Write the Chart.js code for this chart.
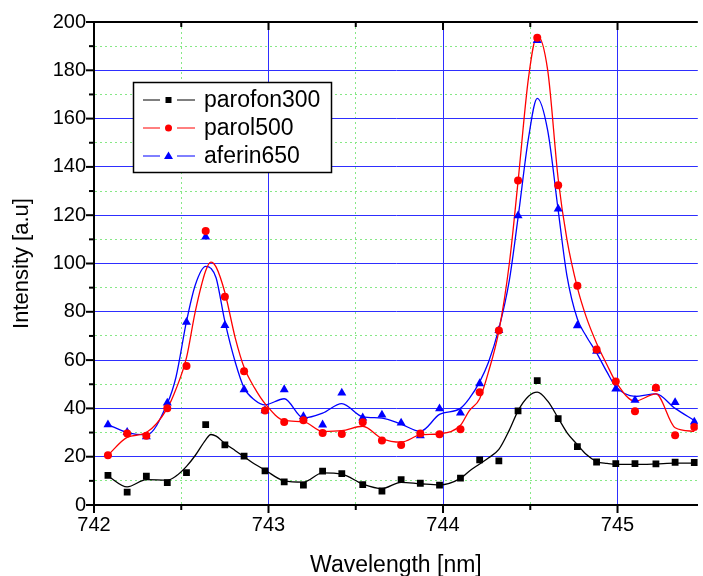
<!DOCTYPE html>
<html>
<head>
<meta charset="utf-8">
<script src="https://cdn.jsdelivr.net/npm/chart.js"></script>
<style>
  html, body { margin: 0; padding: 0; background: #fff; }
  #wrap { width: 703px; height: 576px; }
</style>
</head>
<body>
<div id="wrap"><canvas id="spectrum" width="703" height="576"></canvas></div>
<script>
// measured wavelengths (nm)
const wavelengths = [742.08, 742.19, 742.30, 742.42, 742.53, 742.64, 742.75, 742.86, 742.98, 743.09,
  743.20, 743.31, 743.42, 743.54, 743.65, 743.76, 743.87, 743.98, 744.10, 744.21,
  744.32, 744.43, 744.54, 744.66, 744.77, 744.88, 744.99, 745.10, 745.22, 745.33, 745.44];

const parofon300 = [12.3, 5.3, 11.9, 9.3, 13.4, 33.3, 24.9, 20.2, 14.1, 9.6,
  8.2, 14.0, 13.0, 8.4, 5.8, 10.5, 9.0, 8.2, 11.1, 18.7,
  18.3, 39.0, 51.5, 35.8, 24.2, 17.8, 17.1, 17.1, 17.0, 17.7, 17.6];
const parol500 = [20.6, 29.6, 28.7, 40.1, 57.6, 113.5, 86.2, 55.4, 39.1, 34.4,
  35.1, 29.8, 29.4, 34.3, 26.7, 24.8, 29.6, 29.3, 31.4, 46.7,
  72.3, 134.4, 193.5, 132.4, 90.8, 64.4, 51.1, 38.8, 48.6, 28.9, 32.3];
const aferin650 = [33.3, 30.1, 28.3, 42.3, 75.7, 111.0, 74.4, 47.8, 39.1, 47.8,
  36.7, 33.2, 46.4, 36.1, 37.3, 34.0, 28.7, 39.9, 38.1, 50.3,
  72.3, 119.8, 192.4, 122.6, 74.3, 63.7, 48.1, 43.4, 48.3, 42.5, 34.4];

// fitted curves
const fitX = [742.08, 742.19, 742.30, 742.42, 742.47, 742.53, 742.58, 742.64, 742.67, 742.70,
  742.75, 742.81, 742.86, 742.92, 742.98, 743.09, 743.20, 743.31, 743.42, 743.54,
  743.65, 743.76, 743.87, 743.98, 744.10, 744.15, 744.21, 744.26, 744.32, 744.38,
  744.43, 744.49, 744.54, 744.60, 744.66, 744.71, 744.77, 744.82, 744.88, 744.94,
  744.99, 745.10, 745.22, 745.33, 745.44];
const parofonFit = [12, 7.5, 10.5, 10.3, 12, 16, 20.5, 27, 29.2, 28.5,
  25.5, 22.5, 20, 17, 14.5, 10, 9.5, 13.3, 12.8, 8.7,
  6.8, 9.4, 8.8, 8.3, 11, 14, 17, 19.5, 23, 31,
  39, 45, 46.7, 43, 36, 30, 25, 21, 18, 17.2,
  16.8, 16.8, 17, 17.3, 17.3];
const parolFit = [20.6, 28, 30, 40, 48, 61, 80, 97, 100.6, 98.5,
  88, 69, 57, 48.5, 42, 35, 34.5, 30.5, 30.8, 32.6,
  27.5, 26, 29, 29.5, 33, 39, 44, 55, 72, 100,
  134, 177, 194.5, 180, 135, 110, 90, 78, 67, 58,
  51, 43, 46, 32, 30.5];
const aferinFit = [33.3, 30, 29, 42, 53, 76, 91, 98.8, 98, 94,
  76, 59, 48.5, 43.5, 41.5, 44, 36, 38, 42, 36.5,
  36, 33.5, 30.5, 37.5, 40, 44, 51, 59, 73, 93,
  119, 152, 168.4, 155, 122, 95, 77, 70, 63, 55,
  49, 45, 46, 40, 35];

const seriesNames = ['parofon300', 'parol500', 'aferin650'];
const seriesColors = ['#000000', '#ff0000', '#0000ff'];

const yTicks = [0, 20, 40, 60, 80, 100, 120, 140, 160, 180, 200];
const xTicks = [742, 743, 744, 745];

function pts(xs, ys) {
  return xs.map((x, i) => ({x: x, y: ys[i]}));
}

function isWhole(v, step) {
  const r = v / step;
  return Math.abs(r - Math.round(r)) < 1e-6;
}

const frameDecor = {
  id: 'frameDecor',
  afterDraw(chart) {
    const ctx = chart.ctx;
    const xs = chart.scales.x, ys = chart.scales.y, area = chart.chartArea;
    ctx.save();
    ctx.strokeStyle = '#000';
    ctx.lineWidth = 2;
    ctx.beginPath();
    ctx.moveTo(area.left - 1, area.top);
    ctx.lineTo(area.right, area.top);
    ctx.stroke();

    for (let v = 0; v <= 200; v += 10) {
      const y = ys.getPixelForValue(v);
      const len = v % 20 === 0 ? 8 : 5;
      ctx.beginPath();
      ctx.moveTo(area.left - len, y);
      ctx.lineTo(area.left, y);
      ctx.stroke();
    }
    for (let v = 742; v <= xs.max; v += 0.5) {
      const x = xs.getPixelForValue(v);
      const len = isWhole(v, 1) ? 8 : 5;
      ctx.beginPath();
      ctx.moveTo(x, area.bottom);
      ctx.lineTo(x, area.bottom + len);
      ctx.moveTo(x, area.top);
      ctx.lineTo(x, area.top + len);
      ctx.stroke();
    }

    // legend box
    const bx = 133.5, by = 82.5, bw = 198, bh = 90;
    ctx.fillStyle = '#fff';
    ctx.fillRect(bx, by, bw, bh);
    ctx.lineWidth = 1.5;
    ctx.strokeRect(bx, by, bw, bh);
    ctx.font = '23px "Liberation Sans", Arial, sans-serif';
    ctx.textBaseline = 'middle';
    seriesNames.forEach((name, i) => {
      const y = 100 + i * 28;
      const c = seriesColors[i];
      ctx.strokeStyle = c;
      ctx.fillStyle = c;
      ctx.lineWidth = 1;
      ctx.beginPath();
      ctx.moveTo(143, y); ctx.lineTo(160, y);
      ctx.moveTo(177, y); ctx.lineTo(195, y);
      ctx.stroke();
      ctx.beginPath();
      if (i === 0) {
        ctx.rect(165.5, y - 3, 6, 6);
      } else if (i === 1) {
        ctx.arc(168.5, y, 3.5, 0, Math.PI * 2);
      } else {
        ctx.moveTo(168.5, y - 4.5);
        ctx.lineTo(173, y + 3);
        ctx.lineTo(164, y + 3);
        ctx.closePath();
      }
      ctx.fill();
      ctx.fillStyle = '#000';
      ctx.fillText(name, 204, y + 1);
    });
    ctx.restore();
  }
};

Chart.defaults.font.family = '"Liberation Sans", Arial, sans-serif';
Chart.defaults.color = '#000';

const markerStyles = ['rect', 'circle', 'triangle'];
const markerSizes = [4.8, 4, 5.2];
const allPoints = [parofon300, parol500, aferin650];
const allFits = [parofonFit, parolFit, aferinFit];

const datasets = [];
allPoints.forEach((ys, i) => {
  datasets.push({
    label: seriesNames[i],
    data: pts(wavelengths, ys),
    showLine: false,
    pointStyle: markerStyles[i],
    pointRadius: markerSizes[i],
    pointBackgroundColor: seriesColors[i],
    pointBorderColor: seriesColors[i],
    pointBorderWidth: 0
  });
});
allFits.forEach((ys, i) => {
  datasets.push({
    label: seriesNames[i] + ' fit',
    data: pts(fitX, ys),
    showLine: true,
    borderColor: seriesColors[i],
    borderWidth: 1.3,
    pointRadius: 0,
    cubicInterpolationMode: 'monotone',
    fill: false
  });
});

const gridColor = (major, minor) => (c) => {
  if (!c.tick) return 'transparent';
  return major(c.tick.value) ? '#2e2eff' : (minor(c.tick.value) ? '#86e886' : 'transparent');
};

new Chart(document.getElementById('spectrum'), {
  type: 'scatter',
  data: {datasets: datasets},
  options: {
    responsive: false,
    animation: false,
    devicePixelRatio: 1,
    layout: {padding: {top: 22, right: 1, left: 0, bottom: 0}},
    plugins: {legend: {display: false}, tooltip: {enabled: false}},
    scales: {
      x: {
        type: 'linear',
        min: 742,
        max: 745.46,
        afterFit: (s) => { s.height = 71; },
        ticks: {
          stepSize: 0.5,
          includeBounds: false,
          padding: 8,
          maxRotation: 0,
          autoSkip: false,
          font: {size: 20},
          callback: (v) => xTicks.includes(v) ? String(v) : ''
        },
        grid: {
          drawTicks: false,
          lineWidth: 1,
          color: gridColor(v => isWhole(v, 1) && v > 742, v => isWhole(v, 0.5))
        },
        border: {
          color: '#000',
          width: 2,
          dash: (c) => (c.tick && !isWhole(c.tick.value, 1)) ? [2, 3] : []
        },
        title: {
          display: true,
          text: 'Wavelength [nm]',
          font: {size: 23},
          padding: {top: 0, bottom: -3}
        }
      },
      y: {
        min: 0,
        max: 200,
        afterFit: (s) => { s.width = 94; },
        ticks: {
          stepSize: 10,
          padding: 8,
          autoSkip: false,
          font: {size: 20},
          callback: (v) => yTicks.includes(v) ? String(v) : ''
        },
        grid: {
          drawTicks: false,
          lineWidth: 1,
          color: gridColor(v => v % 20 === 0 && v > 0 && v < 200, v => v % 10 === 0 && v > 0)
        },
        border: {
          color: '#000',
          width: 2,
          dash: (c) => (c.tick && c.tick.value % 20 !== 0) ? [2, 3] : []
        },
        title: {
          display: true,
          text: 'Intensity [a.u]',
          font: {size: 22},
          padding: {top: 9, bottom: 0}
        }
      }
    }
  },
  plugins: [frameDecor]
});
</script>
</body>
</html>
